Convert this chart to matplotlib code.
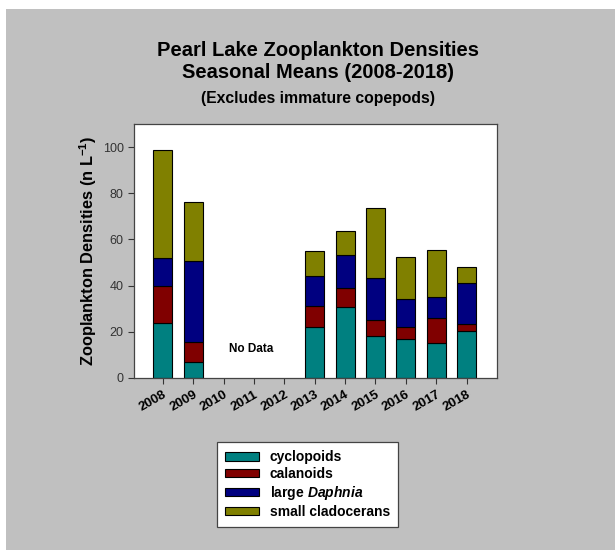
import matplotlib
matplotlib.use("Agg")
import matplotlib.pyplot as plt
from matplotlib.patches import Rectangle
import numpy as np

plt.rcParams['font.family'] = ['Liberation Sans', 'DejaVu Sans']
plt.rcParams['mathtext.fontset'] = 'custom'
plt.rcParams['mathtext.rm'] = 'Liberation Sans:bold'
plt.rcParams['mathtext.it'] = 'Liberation Sans:italic:bold'
plt.rcParams['mathtext.bf'] = 'Liberation Sans:bold'

years = ['2008', '2009', '2010', '2011', '2012', '2013', '2014', '2015', '2016', '2017', '2018']
# stacked layer heights (0 = no data)
cyclopoids = [24.0, 7.1, 0, 0, 0, 22.2, 30.9, 18.1, 16.7, 15.2, 20.2]
calanoids = [15.7, 8.6, 0, 0, 0, 9.1, 8.0, 7.1, 5.2, 10.9, 3.4]
large_daphnia = [12.1, 34.9, 0, 0, 0, 12.9, 14.4, 18.1, 12.3, 8.9, 17.6]
small_cladocerans = [47.0, 25.7, 0, 0, 0, 10.8, 10.2, 30.3, 18.4, 20.6, 6.7]

series = [
    ('cyclopoids', cyclopoids, '#008080'),
    ('calanoids', calanoids, '#800000'),
    ('large $\\it{Daphnia}$', large_daphnia, '#000080'),
    ('small cladocerans', small_cladocerans, '#808000'),
]

fig = plt.figure(figsize=(6.15, 5.5), dpi=100, facecolor='white')
# gray page behind the chart
fig.patches.append(Rectangle((6 / 615, 0), 1, 541 / 550, transform=fig.transFigure,
                             facecolor='#c0c0c0', edgecolor='none', zorder=-10))

ax = fig.add_axes([134 / 615, 1 - 378 / 550, (497 - 134) / 615, (378 - 124) / 550])
ax.set_facecolor('white')

x = np.arange(len(years))
bottom = np.zeros(len(years))
handles = []
for name, vals, col in series:
    vals = np.array(vals)
    mask = vals > 0
    b = ax.bar(x[mask], vals[mask], bottom=bottom[mask], width=0.62, color=col,
               edgecolor='black', linewidth=0.8, label=name)
    handles.append(b)
    bottom += vals

ax.set_xlim(-0.95, 11.0)
ax.set_ylim(0, 110)
ax.set_yticks([0, 20, 40, 60, 80, 100])
ax.set_xticks(x)
ax.set_xticklabels(years, rotation=30, fontweight='bold', fontsize=9.5,
                   ha='right', rotation_mode='anchor', color='black')
ax.tick_params(axis='y', labelsize=9, colors='#333333', length=4)
ax.tick_params(axis='x', length=4, color='#333333')
for s in ax.spines.values():
    s.set_color('#444444')
    s.set_linewidth(0.9)

ax.set_ylabel('Zooplankton Densities (n L$^{\\mathbf{-1}}$)', fontsize=11.8,
              fontweight='bold')
ax.yaxis.set_label_coords((99 - 134) / 363, 0.5)

ax.text(2.9, 12.5, 'No Data', fontsize=8.5, fontweight='bold', ha='center', va='center')

fig.text(318 / 615, 1 - 51 / 550, 'Pearl Lake Zooplankton Densities', fontsize=14.5,
         fontweight='bold', ha='center', va='center')
fig.text(318 / 615, 1 - 73 / 550, 'Seasonal Means (2008-2018)', fontsize=14.5,
         fontweight='bold', ha='center', va='center')
fig.text(318 / 615, 1 - 98 / 550, '(Excludes immature copepods)', fontsize=11.3,
         fontweight='bold', ha='center', va='center')

leg = fig.legend(handles=handles, loc='upper left',
                 bbox_to_anchor=(217 / 615, 1 - 442 / 550), borderaxespad=0,
                 prop={'weight': 'bold', 'size': 10}, frameon=True, fancybox=False,
                 facecolor='white', framealpha=1,
                 edgecolor='#444444', handlelength=2.4, handleheight=0.55,
                 labelspacing=0.2, borderpad=0.6, handletextpad=0.8)
leg.get_frame().set_linewidth(0.9)

fig.savefig('out.png', dpi=100, facecolor=fig.get_facecolor())
